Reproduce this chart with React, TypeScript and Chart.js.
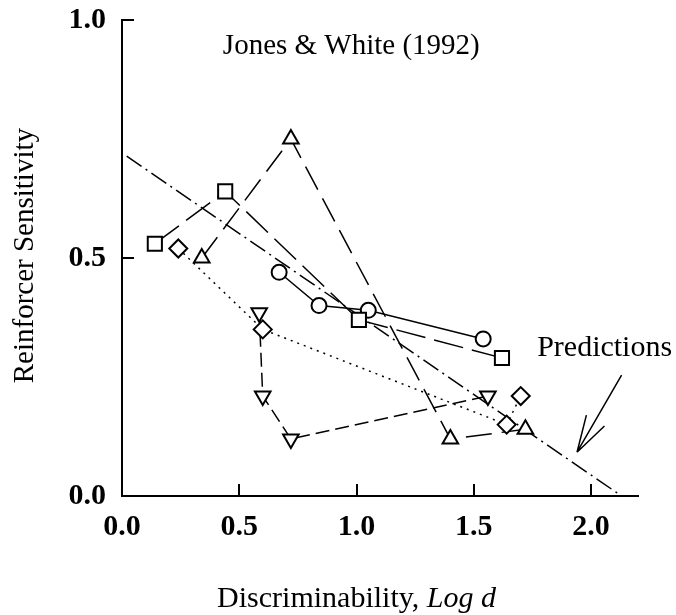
import React, { useEffect, useRef } from "react";
import { Chart, registerables } from "chart.js";

Chart.register(...registerables);

// ---- Data ----
const xTicks = [0, 0.5, 1.0, 1.5, 2.0];
const yTicks = [0, 0.5, 1.0];

const squareX = [0.14, 0.44, 1.01, 1.62];
const squareY = [0.53, 0.64, 0.37, 0.29];

const circleX = [0.67, 0.84, 1.05, 1.54];
const circleY = [0.47, 0.40, 0.39, 0.33];

const triUpX = [0.34, 0.72, 1.40, 1.72];
const triUpY = [0.50, 0.75, 0.12, 0.14];

const triDownX = [0.585, 0.60, 0.72, 1.56];
const triDownY = [0.385, 0.21, 0.12, 0.21];

const diamondX = [0.24, 0.60, 1.64, 1.70];
const diamondY = [0.52, 0.35, 0.15, 0.21];

const predictionX = [0.02, 2.13];
const predictionY = [0.714, 0.0];

const arrowShaftX = [2.13, 1.94];
const arrowShaftY = [0.254, 0.092];
const arrowBarbX = [1.98, 2.057];
const arrowBarbY = [0.170, 0.147];

const titleText = "Jones & White (1992)";
const titlePos = [0.43, 0.945];
const predText = "Predictions";
const predPos = [1.77, 0.31];
const xTitleMain = "Discriminability, ";
const xTitleItalic = "Log d";
const yTitle = "Reinforcer Sensitivity";

const SERIF = '"Liberation Serif", "Times New Roman", serif';

const pts = (xs: number[], ys: number[]) => xs.map((v, i) => ({ x: v, y: ys[i] }));

const lineDs = (xs: number[], ys: number[], dash: number[], width = 1.5) => ({
  data: pts(xs, ys),
  showLine: true,
  borderColor: "#000",
  borderWidth: width,
  borderDash: dash,
  pointRadius: 0,
  fill: false,
  tension: 0,
  order: 2,
});

const markerDs = (xs: number[], ys: number[], style: string, radius: number, rotation = 0) => ({
  data: pts(xs, ys),
  showLine: false,
  pointStyle: style,
  pointRadius: radius,
  pointRotation: rotation,
  pointBorderColor: "#000",
  pointBackgroundColor: "#fff",
  pointBorderWidth: 2,
  order: 0,
});

const decorPlugin = {
  id: "decor",
  afterDraw(chart: any) {
    const { ctx, chartArea, scales } = chart;
    const x = scales.x;
    const y = scales.y;
    ctx.save();
    ctx.strokeStyle = "#000";
    ctx.lineWidth = 2;
    ctx.setLineDash([]);
    // inward ticks
    xTicks.filter((v) => v > 0).forEach((v) => {
      const px = Math.round(x.getPixelForValue(v));
      ctx.beginPath();
      ctx.moveTo(px, chartArea.bottom);
      ctx.lineTo(px, chartArea.bottom - 12);
      ctx.stroke();
    });
    yTicks.filter((v) => v > 0).forEach((v) => {
      const py = Math.round(y.getPixelForValue(v));
      ctx.beginPath();
      ctx.moveTo(chartArea.left, py);
      ctx.lineTo(chartArea.left + 12, py);
      ctx.stroke();
    });
    // arrow
    ctx.lineWidth = 1.5;
    ctx.beginPath();
    ctx.moveTo(x.getPixelForValue(arrowShaftX[0]), y.getPixelForValue(arrowShaftY[0]));
    ctx.lineTo(x.getPixelForValue(arrowShaftX[1]), y.getPixelForValue(arrowShaftY[1]));
    arrowBarbX.forEach((bx, i) => {
      ctx.moveTo(x.getPixelForValue(arrowShaftX[1]), y.getPixelForValue(arrowShaftY[1]));
      ctx.lineTo(x.getPixelForValue(bx), y.getPixelForValue(arrowBarbY[i]));
    });
    ctx.stroke();
    // texts
    ctx.fillStyle = "#000";
    ctx.textBaseline = "middle";
    ctx.textAlign = "left";
    ctx.font = `29px ${SERIF}`;
    ctx.fillText(titleText, x.getPixelForValue(titlePos[0]), y.getPixelForValue(titlePos[1]));
    ctx.font = `30px ${SERIF}`;
    ctx.fillText(predText, x.getPixelForValue(predPos[0]), y.getPixelForValue(predPos[1]));
    // x title
    ctx.font = `30px ${SERIF}`;
    const w1 = ctx.measureText(xTitleMain).width;
    ctx.font = `italic 30px ${SERIF}`;
    const w2 = ctx.measureText(xTitleItalic).width;
    const cx = x.getPixelForValue(1.0);
    const ty = chartArea.bottom + 103;
    const sx = cx - (w1 + w2) / 2;
    ctx.font = `30px ${SERIF}`;
    ctx.fillText(xTitleMain, sx, ty);
    ctx.font = `italic 30px ${SERIF}`;
    ctx.fillText(xTitleItalic, sx + w1, ty);
    // y title
    ctx.save();
    ctx.translate(25, y.getPixelForValue(0.505));
    ctx.rotate(-Math.PI / 2);
    ctx.textAlign = "center";
    ctx.font = `29px ${SERIF}`;
    ctx.fillText(yTitle, 0, 0);
    ctx.restore();
    ctx.restore();
  },
};

export default function App() {
  const ref = useRef<HTMLCanvasElement | null>(null);
  useEffect(() => {
    if (!ref.current) return;
    const chart = new Chart(ref.current, {
      type: "scatter",
      data: {
        datasets: [
          lineDs(predictionX, predictionY, [18, 5, 2, 5]),
          lineDs(squareX, squareY, [30, 9]),
          lineDs(circleX, circleY, []),
          lineDs(triUpX, triUpY, [26, 10]),
          lineDs(triDownX, triDownY, [14, 6]),
          lineDs(diamondX, diamondY, [2, 5]),
          markerDs(squareX, squareY, "rect", 10),
          markerDs(circleX, circleY, "circle", 7.5),
          markerDs(triUpX, triUpY, "triangle", 9),
          markerDs(triDownX, triDownY, "triangle", 9, 180),
          markerDs(diamondX, diamondY, "rectRot", 9),
        ] as any,
      },
      options: {
        responsive: false,
        animation: false,
        devicePixelRatio: 1,
        layout: { padding: { left: 0, top: 0, right: 38, bottom: 0 } },
        plugins: { legend: { display: false }, tooltip: { enabled: false } },
        scales: {
          x: {
            type: "linear",
            min: 0,
            max: 2.2,
            afterBuildTicks: (s: any) => {
              s.ticks = xTicks.map((v) => ({ value: v }));
            },
            afterFit: (s: any) => {
              s.height = 119;
              s.paddingLeft = 0;
              s.paddingRight = 0;
            },
            grid: { display: false, drawTicks: false },
            border: { display: true, color: "#000", width: 2 },
            ticks: {
              color: "#000",
              padding: 13,
              maxRotation: 0,
              font: { family: SERIF, size: 30, weight: "bold" },
              callback: (v: any) => Number(v).toFixed(1),
            },
          },
          y: {
            type: "linear",
            min: 0,
            max: 1,
            afterBuildTicks: (s: any) => {
              s.ticks = yTicks.map((v) => ({ value: v }));
            },
            afterFit: (s: any) => {
              s.width = 122;
              s.paddingTop = 20;
              s.paddingBottom = 0;
            },
            grid: { display: false, drawTicks: false },
            border: { display: true, color: "#000", width: 2 },
            ticks: {
              color: "#000",
              padding: 16,
              font: { family: SERIF, size: 30, weight: "bold" },
              callback: (v: any) => Number(v).toFixed(1),
            },
          },
        },
      } as any,
      plugins: [decorPlugin],
    });
    return () => chart.destroy();
  }, []);
  return (
    <div style={{ position: "absolute", left: 0, top: 0, width: 676, height: 615, background: "#fff" }}>
      <canvas ref={ref} width={676} height={615} style={{ display: "block" }} />
    </div>
  );
}
